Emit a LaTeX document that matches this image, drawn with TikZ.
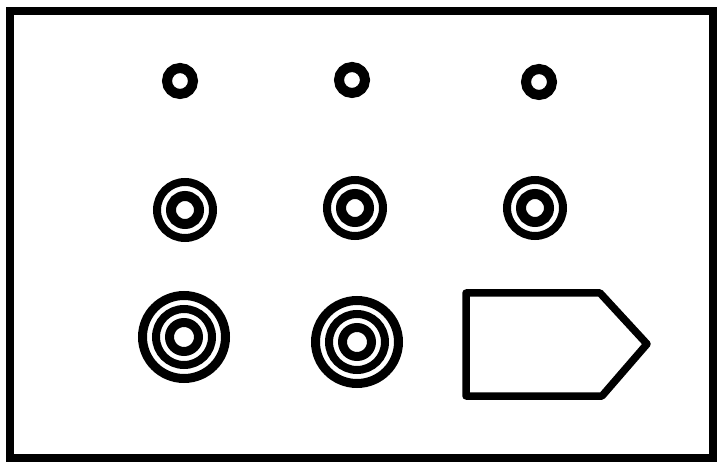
\documentclass[tikz,border=0pt]{standalone}
\begin{document}
\begin{tikzpicture}[x=1pt,y=-1pt,
  ringline/.style={draw=black,line width=#1},
  frameline/.style={draw=black,line width=8pt,line join=miter},
  tagline/.style={draw=black,line width=7.5pt,line join=round}]
\useasboundingbox (0,0) rectangle (726,465);
\fill[white] (0,0) rectangle (726,465);
% frame
\draw[frameline] (10,11) rectangle (713,458);
% row 1: single rings
\foreach \cx/\cy in {180/81, 352/80, 539/82}{
  \draw[ringline=10pt] (\cx,\cy) circle[radius=13];
}
% row 2: double rings
\foreach \cx/\cy in {185/210, 355/208, 535/208}{
  \draw[ringline=10pt] (\cx,\cy) circle[radius=14];
  \draw[ringline=8pt] (\cx,\cy) circle[radius=28];
}
% row 3: triple rings
\foreach \cx/\cy in {184/337, 357/342}{
  \draw[ringline=9pt] (\cx,\cy) circle[radius=14.5];
  \draw[ringline=8pt] (\cx,\cy) circle[radius=28];
  \draw[ringline=9pt] (\cx,\cy) circle[radius=41.5];
}
% tag shape
\draw[tagline] (466,293) -- (600,293) -- (647,344) -- (602,396) -- (466,396) -- cycle;
\end{tikzpicture}
\end{document}
